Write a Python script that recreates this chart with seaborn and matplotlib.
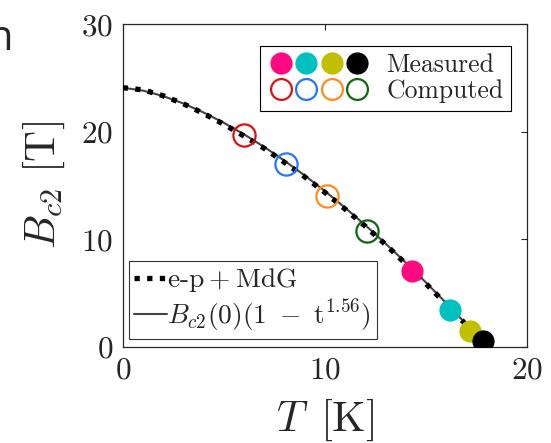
import matplotlib
matplotlib.use('Agg')
import matplotlib.pyplot as plt
from matplotlib.lines import Line2D
from matplotlib.legend_handler import HandlerTuple
import seaborn as sns

# curves
T_fit = [0, 1, 2, 3, 4, 5, 6, 7, 8, 9, 10, 11, 12, 13, 14, 15, 16, 17, 17.95]
B_fit = [24.1, 23.83, 23.32, 22.63, 21.79, 20.83, 19.76, 18.58, 17.30, 15.93,
         14.47, 12.92, 11.30, 9.59, 7.82, 5.96, 4.05, 2.06, 0.0]
T_ep = [0, 1, 2, 3, 4, 5, 6, 7, 8, 9, 10, 11, 12, 13, 14, 15, 16, 17, 17.9]
B_ep = [24.1, 23.9, 23.35, 22.6, 21.7, 20.7, 19.6, 18.45, 17.15, 15.8,
        14.35, 12.8, 11.2, 9.5, 7.7, 5.85, 3.95, 2.0, 0.0]

# computed points (open circles)
T_comp = [6.0, 8.1, 10.1, 12.1]
B_comp = [19.7, 17.0, 14.0, 10.75]
col_comp = ['#dd1111', '#2277ff', '#ff8c1a', '#116611']

# measured points (filled circles)
T_meas = [14.3, 16.2, 17.2, 17.8]
B_meas = [7.0, 3.4, 1.45, 0.55]
col_meas = ['#ff0a80', '#00c0c0', '#c0c000', '#000000']

sns.set_style('white')
plt.rcParams['font.family'] = ['cmr10']
plt.rcParams['mathtext.fontset'] = 'cm'
plt.rcParams['axes.formatter.use_mathtext'] = True

fig = plt.figure(figsize=(5.51, 4.43), dpi=100)
ax = fig.add_axes([0.2227, 0.2178, 0.7338, 0.7273])

sns.lineplot(x=T_fit, y=B_fit, color='#444444', lw=1.5, ax=ax, zorder=2)
sns.lineplot(x=T_ep, y=B_ep, color='k', lw=3.8, linestyle=(0, (1, 1.4)), ax=ax, zorder=3)

for t, b, c in zip(T_comp, B_comp, col_comp):
    ax.plot(t, b, 'o', ms=16, mfc='none', mec=c, mew=1.6, zorder=4)
for t, b, c in zip(T_meas, B_meas, col_meas):
    ax.plot(t, b, 'o', ms=16, mfc=c, mec=c, mew=0, zorder=5)

ax.set_xlim(0, 20)
ax.set_ylim(0, 30)
ax.set_xticks([0, 10, 20])
ax.set_yticks([0, 10, 20, 30])
ax.tick_params(direction='in', top=True, right=True, length=4, width=0.8,
               labelsize=22.5, pad=7, colors='#262626')
for s in ax.spines.values():
    s.set_linewidth(0.9)
    s.set_color('#262626')

ax.set_xlabel(r'$T\ \,[\mathrm{K}]$', fontsize=31, labelpad=10)
ax.set_ylabel(r'$B_{c2}\ [\mathrm{T}]$', fontsize=31, labelpad=10)

# legend with the point groups
h_meas = tuple(Line2D([], [], marker='o', ls='none', ms=16, mfc=c, mec=c, mew=0) for c in col_meas)
h_comp = tuple(Line2D([], [], marker='o', ls='none', ms=15, mfc='none', mec=c, mew=1.6) for c in col_comp)
leg1 = ax.legend([h_meas, h_comp], ['Measured', 'Computed'],
                 handler_map={tuple: HandlerTuple(ndivide=None, pad=0)},
                 loc='upper right', bbox_to_anchor=(0.96, 0.934), borderaxespad=0,
                 handlelength=3.97, handletextpad=0.62, fontsize=18.5, fancybox=False,
                 edgecolor='k', framealpha=1, borderpad=0.3, labelspacing=0.1)
leg1.get_frame().set_linewidth(0.8)
ax.add_artist(leg1)

# legend with the curves
h_ep = Line2D([], [], color='k', lw=3.8, linestyle=(0, (1, 1.4)))
h_fit = Line2D([], [], color='#444444', lw=1.5)
leg2 = ax.legend([h_ep, h_fit],
                 [r'e-p$\:+\:$MdG', r'$B_{c2}(0)(1\,\,-\,\,\mathrm{t}^{1.56})$'],
                 loc='lower left', bbox_to_anchor=(0.0156, 0.022), borderaxespad=0,
                 handlelength=1.2, handletextpad=0.0, fontsize=19.7, fancybox=False,
                 edgecolor='#333333', framealpha=1, borderpad=0.2, labelspacing=0.1)
leg2.get_frame().set_linewidth(0.8)

# cut-off letter from the neighbouring panel
fig.text(0.0236, 0.887, 'n', fontsize=30, family='Open Sans', ha='right', va='baseline')

fig.savefig('out.png', dpi=100)
